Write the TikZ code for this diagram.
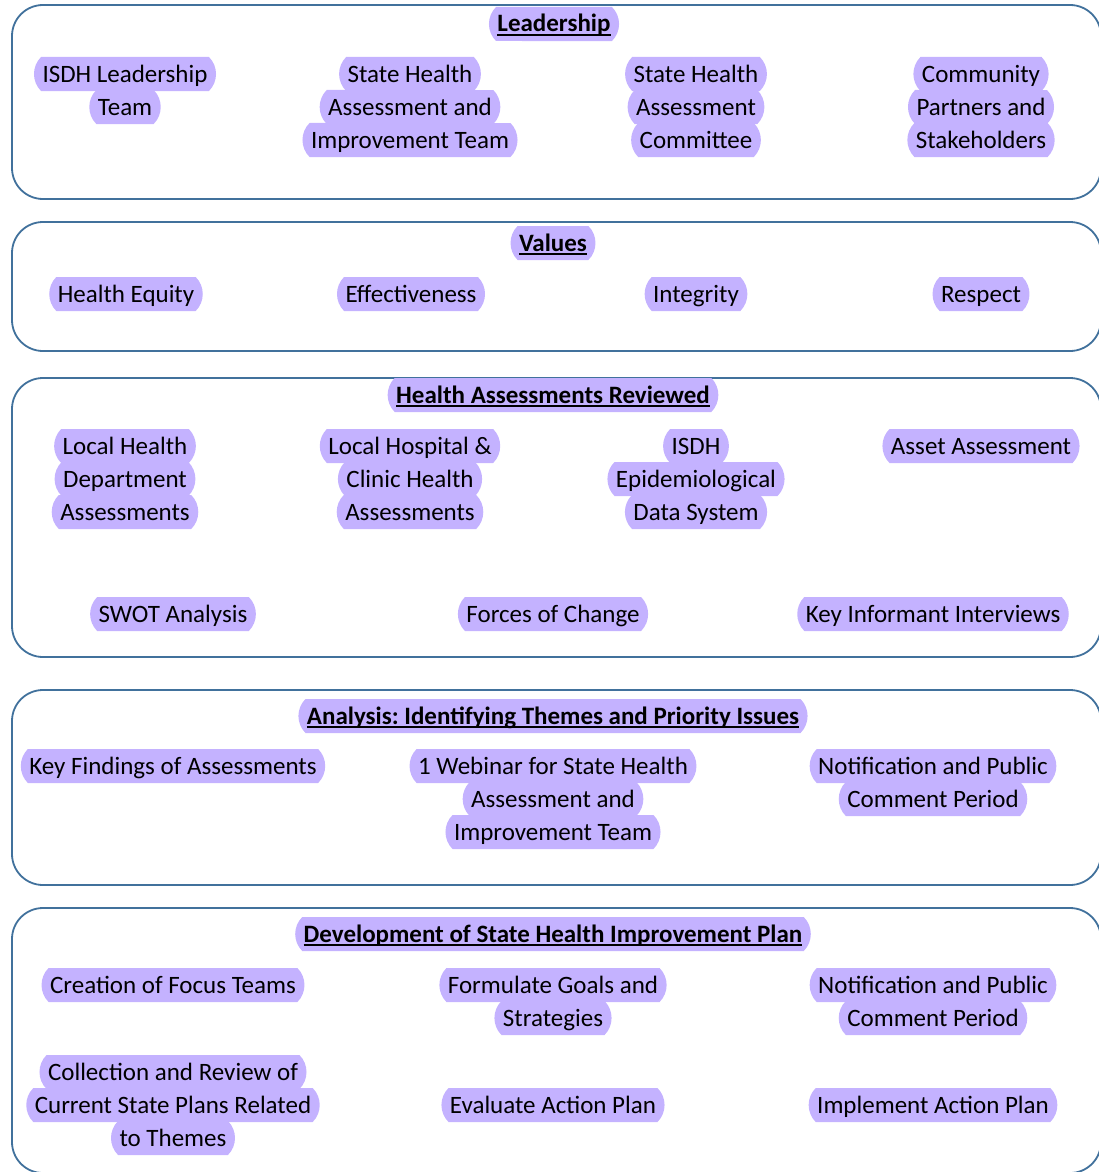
\documentclass[tikz,border=0pt]{standalone}
\usepackage{fontspec}
\setmainfont{Carlito}
\frenchspacing
\usetikzlibrary{shapes.misc}
\definecolor{boxblue}{RGB}{65,113,156}
\definecolor{hlfill}{RGB}{196,178,255}
\tikzset{
  panel/.style={draw=boxblue, line width=1.8pt, rounded corners=31pt},
  hl/.style={rounded rectangle, rounded rectangle arc length=90, fill=hlfill,
    inner xsep=1.5pt, inner ysep=0pt, text height=25pt, text depth=9pt,
    font=\fontsize{25}{33}\selectfont},
  hd/.style={hl, font=\fontsize{25}{33}\selectfont\bfseries}
}
\newcommand\hdul[1]{\setbox0\hbox{#1}\rlap{\rule[-4pt]{\wd0}{2pt}}\box0}
\newcommand\hlstack[4]{\foreach \lbl [count=\i] in {#4}{\node[hl] (#1-\i) at ({#2},{#3+33*(\i-1)}) {\lbl};}}
\begin{document}
\begin{tikzpicture}[x=1pt,y=-1pt]
\useasboundingbox (0,0) rectangle (1099,1172);
% panels
\draw[panel] (12,5) rectangle (1101,199);
\draw[panel] (12,222) rectangle (1101,351);
\draw[panel] (12,378) rectangle (1101,657);
\draw[panel] (12,690) rectangle (1101,885);
\draw[panel] (12,908) rectangle (1101,1173);
% Leadership
\node[hd] (h1) at (554,24) {\hdul{Leadership}};
\hlstack{a1}{125}{74}{ISDH Leadership,Team}
\hlstack{a2}{410}{74}{State Health,Assessment and,Improvement Team}
\hlstack{a3}{696}{74}{State Health,Assessment,Committee}
\hlstack{a4}{981}{74}{Community,Partners and,Stakeholders}
% Values
\node[hd] (h2) at (553,243) {\hdul{Values}};
\node[hl] (b1) at (126,294) {Health Equity};
\node[hl] (b2) at (411,294) {Effectiveness};
\node[hl] (b3) at (696,294) {Integrity};
\node[hl] (b4) at (981,294) {Respect};
% Health Assessments Reviewed
\node[hd] (h3) at (553,395) {\hdul{Health Assessments Reviewed}};
\hlstack{c1}{125}{446}{Local Health,Department,Assessments}
\hlstack{c2}{410}{446}{Local Hospital \&,Clinic Health,Assessments}
\hlstack{c3}{696}{446}{ISDH,Epidemiological,Data System}
\node[hl] (c4) at (981,446) {Asset Assessment};
\node[hl] (c5) at (173,614) {SWOT Analysis};
\node[hl] (c6) at (553,614) {Forces of Change};
\node[hl] (c7) at (933,614) {Key Informant Interviews};
% Analysis
\node[hd] (h4) at (553,716) {\hdul{Analysis: Identifying Themes and Priority Issues}};
\node[hl] (d1) at (173,766) {Key Findings of Assessments};
\hlstack{d2}{553}{766}{1 Webinar for State Health,Assessment and,Improvement Team}
\hlstack{d3}{933}{766}{Notification and Public,Comment Period}
% Development
\node[hd] (h5) at (553,934) {\hdul{Development of State Health Improvement Plan}};
\node[hl] (e1) at (173,985) {Creation of Focus Teams};
\hlstack{e2}{553}{985}{Formulate Goals and,Strategies}
\hlstack{e3}{933}{985}{Notification and Public,Comment Period}
\hlstack{e4}{173}{1072}{Collection and Review of,Current State Plans Related,to Themes}
\node[hl] (e5) at (553,1105) {Evaluate Action Plan};
\node[hl] (e6) at (933,1105) {Implement Action Plan};
\end{tikzpicture}
\end{document}
